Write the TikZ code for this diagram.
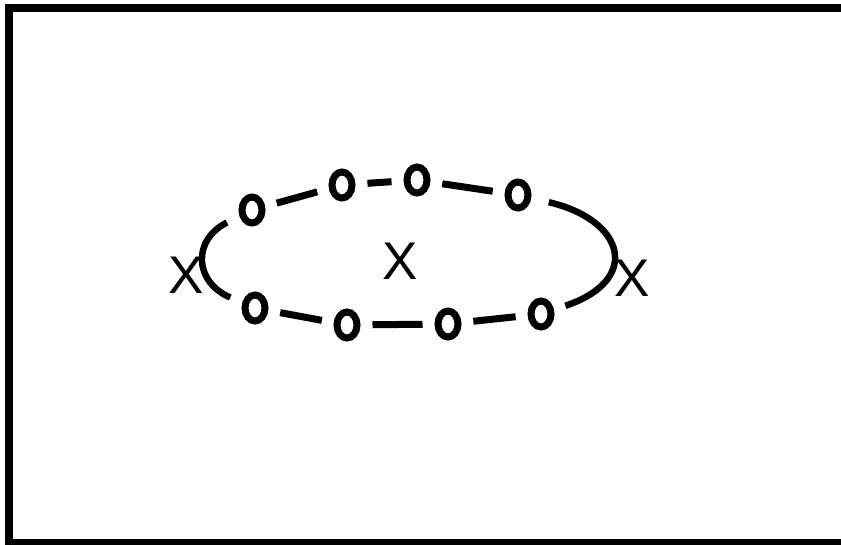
\documentclass[tikz,border=0pt]{standalone}
\usepackage{fontspec}
\setmainfont{Liberation Sans}
\usetikzlibrary{shapes.geometric}
\tikzset{
  ring/.style={ellipse, draw=black, line width=7pt, inner sep=0pt, minimum width=20pt, minimum height=26pt},
  seg/.style={draw=black, line width=7pt, shorten <=12pt, shorten >=12pt},
  arcseg/.style={draw=black, line width=6.5pt},
  xlabel/.style={inner sep=0pt, font=\fontsize{53}{53}\selectfont, text=black}
}
\begin{document}
\begin{tikzpicture}[x=1pt,y=-1pt]
\useasboundingbox (0,0) rectangle (841,544);
\clip (0,0) rectangle (841,544);
\fill[white] (0,0) rectangle (841,544);
\draw[line width=8pt] (9,8) rectangle (880,543);
% rings
\node[ring] (A) at (252,210) {};
\node[ring] (B) at (342,185) {};
\node[ring] (C) at (417,180) {};
\node[ring] (G) at (518,195) {};
\node[ring] (D) at (255,308) {};
\node[ring] (E) at (347,325) {};
\node[ring] (F) at (448,324) {};
\node[ring] (H) at (541,314) {};
% labels
\node[xlabel] (xl) at (186,275) {X};
\node[xlabel] (xc) at (400,261) {X};
\node[xlabel] (xr) at (632,278) {X};
% segments
\draw[seg] (A) -- (B);
\draw[seg] (B) -- (C);
\draw[seg] (C) -- (G);
\draw[seg] (D) -- (E);
\draw[seg] (E) -- (F);
\draw[seg] (F) -- (H);
% end arcs
\draw[arcseg, shorten <=14pt, shorten >=13pt] (A) .. controls (192,240) and (194,282) .. (D);
\draw[arcseg, shorten <=18pt, shorten >=12pt] (G) .. controls (625,220) and (642,280) .. (H);
\end{tikzpicture}
\end{document}
